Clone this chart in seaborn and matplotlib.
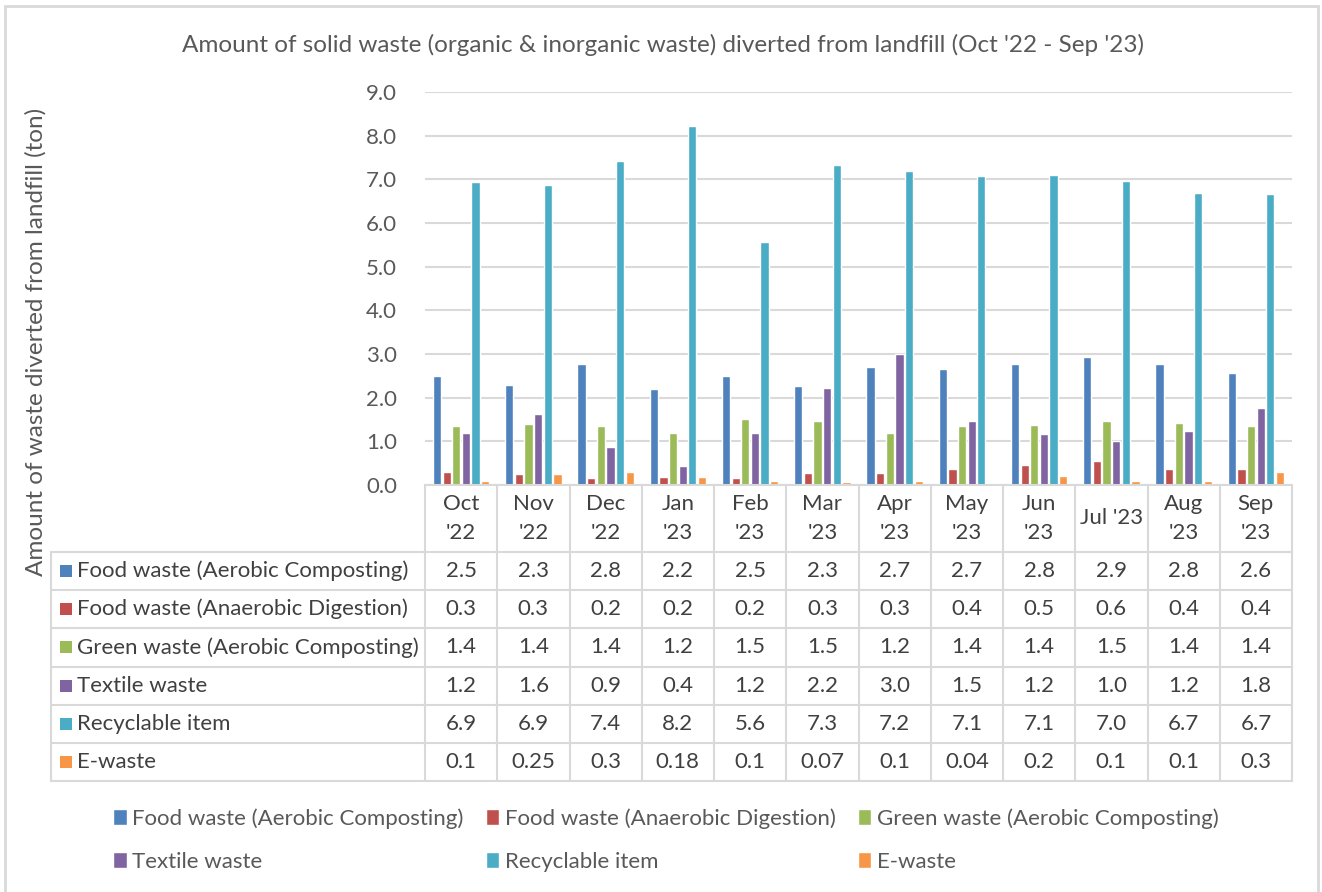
# Gráfico de residuos desviados del relleno sanitario (barras + tabla de datos)
import matplotlib
matplotlib.use("Agg")
import matplotlib.pyplot as plt
import matplotlib.transforms as mtransforms
from matplotlib.lines import Line2D
from matplotlib.patches import Rectangle
import seaborn as sns
import pandas as pd

# =====================================================================
# DATOS
# =====================================================================
MESES = ["Oct\n'22", "Nov\n'22", "Dec\n'22", "Jan\n'23", "Feb\n'23", "Mar\n'23",
         "Apr\n'23", "May\n'23", "Jun\n'23", "Jul '23", "Aug\n'23", "Sep\n'23"]
SERIES = ["Food waste (Aerobic Composting)", "Food waste (Anaerobic Digestion)",
          "Green waste (Aerobic Composting)", "Textile waste", "Recyclable item", "E-waste"]

food_aerobic = [2.49, 2.29, 2.78, 2.19, 2.49, 2.26, 2.70, 2.66, 2.76, 2.94, 2.78, 2.56]
food_anaerobic = [0.29, 0.26, 0.17, 0.18, 0.16, 0.27, 0.27, 0.37, 0.46, 0.56, 0.36, 0.36]
green_waste = [1.36, 1.40, 1.36, 1.19, 1.51, 1.46, 1.19, 1.36, 1.38, 1.46, 1.42, 1.36]
textile_waste = [1.19, 1.63, 0.87, 0.44, 1.19, 2.23, 3.0, 1.46, 1.16, 1.0, 1.24, 1.76]
recyclable = [6.93, 6.87, 7.42, 8.23, 5.56, 7.32, 7.18, 7.08, 7.09, 6.96, 6.68, 6.67]
e_waste = [0.1, 0.25, 0.3, 0.18, 0.1, 0.07, 0.1, 0.04, 0.2, 0.1, 0.1, 0.3]

VALORES = [food_aerobic, food_anaerobic, green_waste, textile_waste, recyclable, e_waste]
FORMATOS = ["{:.1f}"] * 5 + ["{:g}"]

TITULO = "Amount of solid waste (organic & inorganic waste) diverted from landfill (Oct '22 - Sep '23)"
ETIQUETA_Y = "Amount of waste diverted from landfill (ton)"

# =====================================================================
# ESTILO (paleta Office 2010)
# =====================================================================
COLORES = ["#4F81BD", "#C0504D", "#9BBB59", "#8064A2", "#4BACC6", "#F79646"]
GRIS_TEXTO = "#595959"
GRIS_TABLA = "#404040"
GRIS_LINEA = "#d9d9d9"
TAM_FUENTE = 16
TAM_TITULO = 17.5

sns.set_style("white")
plt.rcParams['font.family'] = ['Lato', 'DejaVu Sans']

ANCHO, ALTO = 1322, 892


def fx(px):
    return px / ANCHO


def fy(py):
    return 1 - py / ALTO


# Tabla larga para seaborn
filas = []
for serie, vals in zip(SERIES, VALORES):
    for mes, v in zip(MESES, vals):
        filas.append({"mes": mes, "serie": serie, "valor": v})
df = pd.DataFrame(filas)

figura = plt.figure(figsize=(ANCHO / 100, ALTO / 100), dpi=100)
figura.patch.set_facecolor("white")

# Área de dibujo ubicada igual que en el original
x0, x1, y_top, y_bot = 425, 1292, 92, 485
ax = figura.add_axes([fx(x0), fy(y_bot), fx(x1 - x0), (y_bot - y_top) / ALTO])

sns.barplot(data=df, x="mes", y="valor", hue="serie", hue_order=SERIES,
            palette=COLORES, saturation=1, gap=0.15, ax=ax)

handles, labels = ax.get_legend_handles_labels()
ax.legend_.remove()

ax.set_ylim(0, 9)
ax.set_xlim(-0.5, len(MESES) - 0.5)
ax.set_yticks([i for i in range(10)])
ax.set_yticklabels([f"{i:.1f}" for i in range(10)], color=GRIS_TEXTO, fontsize=TAM_FUENTE)
ax.tick_params(axis="y", length=0, pad=20)
ax.set_xticks([])
ax.set_xlabel("")
ax.set_ylabel("")
ax.grid(axis="y", color=GRIS_LINEA, linewidth=1.5)
ax.set_axisbelow(True)
for lado in ["top", "right", "left"]:
    ax.spines[lado].set_visible(False)
ax.spines["bottom"].set_color(GRIS_LINEA)
ax.spines["bottom"].set_linewidth(1.5)

# =====================================================================
# TABLA DE DATOS
# =====================================================================
mezcla = mtransforms.blended_transform_factory(ax.transData, figura.transFigure)
lineas_filas = [552, 590, 628, 666.5, 705, 743, 781]
izq_tabla = 51

# líneas verticales entre meses
for i in range(len(MESES) + 1):
    figura.add_artist(Line2D([i - 0.5, i - 0.5], [fy(y_bot), fy(lineas_filas[-1])],
                             transform=mezcla, color=GRIS_LINEA, lw=1.5))
# borde izquierdo de la zona de etiquetas
figura.add_artist(Line2D([fx(izq_tabla)] * 2, [fy(lineas_filas[0]), fy(lineas_filas[-1])],
                         transform=figura.transFigure, color=GRIS_LINEA, lw=1.5))
# líneas horizontales
for yl in lineas_filas:
    figura.add_artist(Line2D([fx(izq_tabla), fx(x1)], [fy(yl)] * 2,
                             transform=figura.transFigure, color=GRIS_LINEA, lw=1.5))

# encabezado de meses
for i, mes in enumerate(MESES):
    figura.text(i, fy((y_bot + lineas_filas[0]) / 2), mes, transform=mezcla,
                ha="center", va="center", fontsize=TAM_FUENTE, color=GRIS_TABLA,
                linespacing=1.55)

# filas con valores
for k, (serie, vals, fmt) in enumerate(zip(SERIES, VALORES, FORMATOS)):
    yc = (lineas_filas[k] + lineas_filas[k + 1]) / 2
    figura.add_artist(Rectangle((fx(60), fy(yc + 6)), fx(12), 12 / ALTO,
                                transform=figura.transFigure, color=COLORES[k], lw=0))
    figura.text(fx(77), fy(yc), serie, ha="left", va="center",
                fontsize=TAM_FUENTE, color=GRIS_TABLA)
    for i, v in enumerate(vals):
        figura.text(i, fy(yc), fmt.format(v), transform=mezcla, ha="center",
                    va="center", fontsize=TAM_FUENTE, color=GRIS_TABLA)

# títulos
figura.text(fx(663), fy(45), TITULO, ha="center", va="center",
            fontsize=TAM_TITULO, color=GRIS_TEXTO)
figura.text(fx(36), fy(342), ETIQUETA_Y, ha="center", va="center", rotation=90,
            fontsize=TAM_TITULO, color=GRIS_TEXTO)

# leyenda inferior (orden por filas)
orden = [0, 3, 1, 4, 2, 5]
figura.legend([handles[i] for i in orden], [labels[i] for i in orden],
              ncol=3, loc="center", bbox_to_anchor=(fx(666), fy(840)),
              frameon=False, fontsize=TAM_FUENTE, labelcolor=GRIS_TEXTO,
              handlelength=0.6, handleheight=0.75, handletextpad=0.25,
              columnspacing=1.0, labelspacing=1.05)

# marco del gráfico
figura.add_artist(Rectangle((fx(5), fy(900)), fx(1313), (900 - 6) / ALTO,
                            transform=figura.transFigure, fill=False,
                            edgecolor=GRIS_LINEA, lw=2))

figura.savefig("out.png", dpi=100, facecolor=figura.get_facecolor())
plt.close(figura)
